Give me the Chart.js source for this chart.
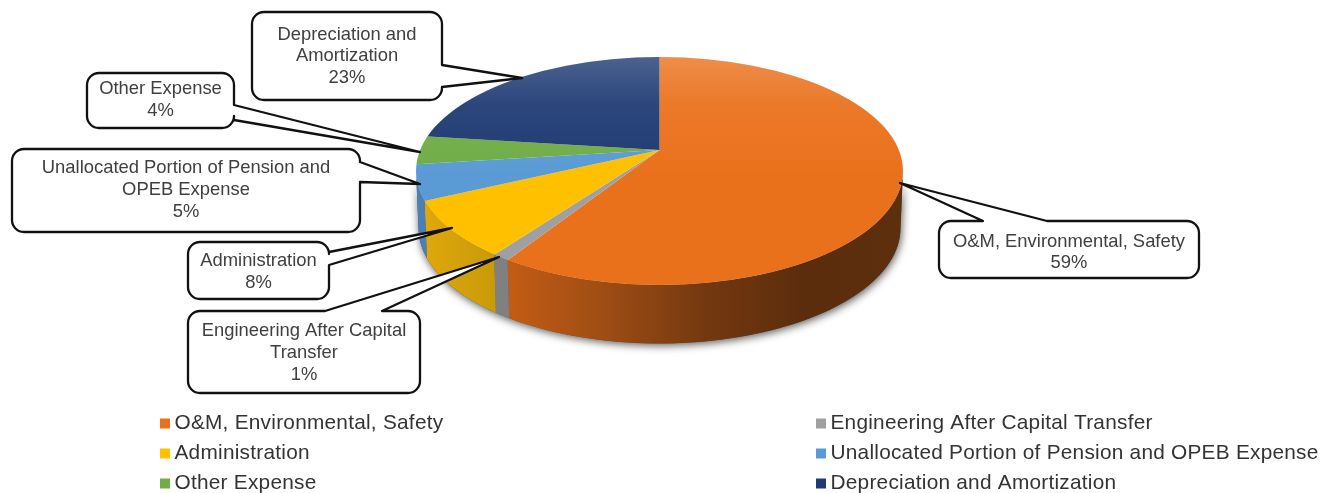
<!DOCTYPE html>
<html>
<head>
<meta charset="utf-8">
<style>
  html, body { margin: 0; padding: 0; background: #fff; }
  canvas { display: block; filter: blur(0.5px); }
</style>
<script src="https://cdn.jsdelivr.net/npm/chart.js@4/dist/chart.umd.min.js"></script>
</head>
<body>
<canvas id="chart" width="1323" height="493"></canvas>
<script>
const categories = [
    'O&M, Environmental, Safety',
    'Engineering After Capital Transfer',
    'Administration',
    'Unallocated Portion of Pension and OPEB Expense',
    'Other Expense',
    'Depreciation and Amortization'
];
const percentages = [59, 1, 8, 5, 4, 23];
const sliceColors = ['#ea711c', '#a0a0a0', '#ffc000', '#5b9bd5', '#70ad47', '#1f3b73'];

// the same labels broken the way the callouts break them
const calloutLines = [
    ['O&M, Environmental, Safety'],
    ['Engineering After Capital', 'Transfer'],
    ['Administration'],
    ['Unallocated Portion of Pension and', 'OPEB Expense'],
    ['Other Expense'],
    ['Depreciation and', 'Amortization']
];

// legend reads down the left column, then the right one
const legendLeft = [0, 2, 4];
const legendRight = [1, 3, 5];

// layout of the tilted disc: top face, bottom rim, and where the hub lands
const top3d = { cx: 659.5, cy: 171, rx: 243.5, ry: 114 };
const bottom3d = { cx: 659.5, cy: 228, rx: 241, ry: 115.5 };
const hub = { x: 659.5, y: 150 };
const perspective = 0.83;

const wallStops = [
    [[0, '#c45c14'], [0.23, '#a04e14'], [0.5, '#743810'], [0.75, '#5b2d0c'], [1, '#5e2f0d']],
    [[0, '#808080'], [1, '#808080']],
    [[0, '#c99a0a'], [1, '#dfa80b']],
    [[0, '#4a80b5'], [1, '#4a80b5']],
    [[0, '#5b8e3a'], [1, '#5b8e3a']],
    [[0, '#182e5a'], [1, '#182e5a']]
];

const callouts = [
    { box: [939, 221, 260, 57], side: 'top', base: [983, 1047], tip: [900, 183], y: 241.5 },
    { box: [188, 311, 232, 82], side: 'top', base: [325, 382], tip: [499, 257], y: 331 },
    { box: [188, 242, 141, 57], side: 'right', base: [252, 265], tip: [452, 228], y: 261 },
    { box: [12, 149, 348, 83], side: 'right', base: [162, 182], tip: [420, 184], y: 168 },
    { box: [87, 73, 147, 55], side: 'right', base: [105, 120], tip: [420, 152], y: 89 },
    { box: [252, 12, 190, 88], side: 'right', base: [65, 87], tip: [522, 78], y: 34.5 }
];

// maps an angle on the flat disc (from 12 o'clock, clockwise) to the drawn rim
function rimAngle(theta) {
    if (Math.abs(theta - Math.PI) < 1e-9) return Math.PI;
    let phi = 2 * Math.atan(perspective * Math.tan(theta / 2));
    if (phi < 0) phi += 2 * Math.PI;
    return phi;
}

function rimPoint(e, phi) {
    return [e.cx + e.rx * Math.sin(phi), e.cy - e.ry * Math.cos(phi)];
}

function ellipsePath(ctx, e) {
    ctx.beginPath();
    ctx.ellipse(e.cx, e.cy, e.rx, e.ry, 0, 0, 2 * Math.PI);
}

function wallPath(ctx, from, to) {
    ctx.beginPath();
    for (let i = 0; i <= 60; i++) {
        const p = rimPoint(top3d, from + (to - from) * i / 60);
        ctx.lineTo(p[0], p[1]);
    }
    for (let i = 60; i >= 0; i--) {
        const p = rimPoint(bottom3d, from + (to - from) * i / 60);
        ctx.lineTo(p[0], p[1]);
    }
    ctx.closePath();
}

function drawWalls(ctx, chart) {
    const rimStart = Math.PI / 2;
    const rimEnd = 3 * Math.PI / 2;

    ctx.save();
    ctx.shadowColor = 'rgba(0,0,0,0.65)';
    ctx.shadowBlur = 9;
    ctx.shadowOffsetX = 1;
    ctx.shadowOffsetY = 2;
    ctx.fillStyle = '#555';
    wallPath(ctx, rimStart, rimEnd);
    ctx.fill();
    ctx.restore();

    chart.getDatasetMeta(0).data.forEach((arc, i) => {
        const from = Math.max(arc.rimFrom, rimStart);
        const to = Math.min(arc.rimTo, rimEnd);
        if (to <= from) return;
        const x0 = rimPoint(top3d, i === 0 ? to : from)[0];
        const x1 = rimPoint(top3d, i === 0 ? from : to)[0];
        const grad = ctx.createLinearGradient(x0, 0, x1, 0);
        wallStops[i].forEach(s => grad.addColorStop(s[0], s[1]));
        ctx.fillStyle = grad;
        wallPath(ctx, from, to);
        ctx.fill();
    });
}

function roundedBoxWithTail(ctx, c) {
    const [x, y, w, h] = c.box;
    const r = 12;
    ctx.beginPath();
    ctx.moveTo(x + r, y);
    if (c.side === 'top') {
        ctx.lineTo(c.base[0], y);
        ctx.lineTo(c.tip[0], c.tip[1]);
        ctx.lineTo(c.base[1], y);
    }
    ctx.arcTo(x + w, y, x + w, y + h, r);
    if (c.side === 'right') {
        ctx.lineTo(x + w, c.base[0]);
        ctx.lineTo(c.tip[0], c.tip[1]);
        ctx.lineTo(x + w, c.base[1]);
    }
    ctx.arcTo(x + w, y + h, x, y + h, r);
    ctx.arcTo(x, y + h, x, y, r);
    ctx.arcTo(x, y, x + w, y, r);
    ctx.closePath();
}

function drawCallouts(ctx) {
    callouts.forEach((c, i) => {
        roundedBoxWithTail(ctx, c);
        ctx.fillStyle = '#fff';
        ctx.fill();
        ctx.lineWidth = 2.3;
        ctx.lineJoin = 'round';
        ctx.strokeStyle = '#111';
        ctx.stroke();

        ctx.fillStyle = '#404040';
        ctx.font = '18.4px "Liberation Sans", Arial, sans-serif';
        ctx.textAlign = 'center';
        ctx.textBaseline = 'middle';
        const lines = calloutLines[i].concat(percentages[i] + '%');
        lines.forEach((line, n) => {
            ctx.fillText(line, c.box[0] + c.box[2] / 2, c.y + n * 21.8);
        });
    });
}

function drawLegendColumn(ctx, items, x) {
    items.forEach((idx, row) => {
        const y = 423.5 + row * 30;
        ctx.fillStyle = sliceColors[idx];
        ctx.fillRect(x, y - 5, 10, 10);
        ctx.fillStyle = '#333';
        ctx.font = '20.8px "Liberation Sans", Arial, sans-serif';
        ctx.letterSpacing = '0.25px';
        ctx.textAlign = 'left';
        ctx.textBaseline = 'middle';
        ctx.fillText(categories[idx], x + 14.5, y);
        ctx.letterSpacing = '0px';
    });
}

const pie3d = {
    id: 'pie3d',
    afterDatasetsUpdate(chart) {
        // turn the flat slice angles into rays from the hub, clipped by the top face
        let prev = -Math.PI / 2;
        chart.getDatasetMeta(0).data.forEach(arc => {
            const t0 = arc.startAngle + Math.PI / 2;
            const t1 = arc.endAngle + Math.PI / 2;
            arc.rimFrom = rimAngle(t0);
            arc.rimTo = t1 >= 2 * Math.PI - 1e-9 ? 2 * Math.PI : rimAngle(t1);
            const p = rimPoint(top3d, arc.rimTo);
            let end = Math.atan2(p[1] - hub.y, p[0] - hub.x);
            while (end <= prev) end += 2 * Math.PI;
            arc.startAngle = prev;
            arc.endAngle = end;
            arc.circumference = end - prev;
            prev = end;
        });
    },
    beforeDatasetsDraw(chart) {
        const ctx = chart.ctx;
        const arc = chart.getDatasetMeta(0).data[0];
        drawWalls(ctx, chart);
        ctx.save();
        ellipsePath(ctx, top3d);
        ctx.clip();
        ctx.translate(hub.x - arc.x, hub.y - arc.y);
    },
    afterDatasetsDraw(chart) {
        const ctx = chart.ctx;
        ctx.restore();

        // light wash on the far part of the disc
        const wash = ctx.createLinearGradient(0, top3d.cy - top3d.ry, 0, 175);
        wash.addColorStop(0, 'rgba(255,255,255,0.2)');
        wash.addColorStop(0.4, 'rgba(255,255,255,0.06)');
        wash.addColorStop(1, 'rgba(255,255,255,0)');
        ctx.fillStyle = wash;
        ellipsePath(ctx, top3d);
        ctx.fill();

        drawCallouts(ctx);
        drawLegendColumn(ctx, legendLeft, 160);
        drawLegendColumn(ctx, legendRight, 816);
    }
};

new Chart(document.getElementById('chart').getContext('2d'), {
    type: 'pie',
    data: {
        labels: categories,
        datasets: [{
            data: percentages,
            backgroundColor: sliceColors,
            borderWidth: 0
        }]
    },
    options: {
        responsive: false,
        animation: false,
        plugins: {
            legend: { display: false },
            tooltip: { enabled: false }
        }
    },
    plugins: [pie3d]
});
</script>
</body>
</html>
